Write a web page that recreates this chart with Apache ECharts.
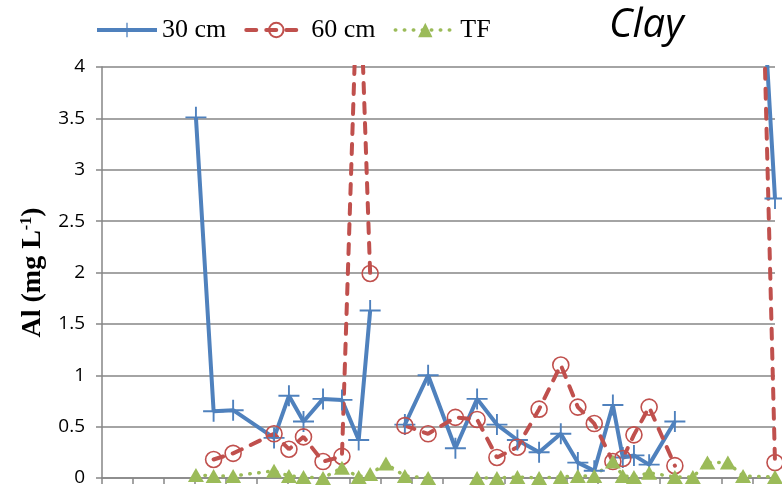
<!DOCTYPE html>
<html>
<head>
<meta charset="utf-8">
<script src="https://cdn.jsdelivr.net/npm/echarts@6/dist/echarts.min.js"></script>
<style>html,body{margin:0;padding:0;background:#fff;}#c{width:782px;height:490px;}</style>
</head>
<body>
<div id="c"></div>
<script>
// Sampling positions (in x-axis tick units) and Al concentrations (mg L-1); null = gap in the line
var days30 = [3.03,3.6,4.23,5.55,6.03,6.5,7.13,7.74,8.28,8.65,9.16,9.77,10.52,11.4,12.1,12.74,13.4,14.1,14.8,15.35,15.88,16.48,16.8,17.16,17.65,18.48,19.06,21.29,21.71];
var al30   = [3.51,0.65,0.66,0.39,0.80,0.55,0.77,0.76,0.37,1.63,null,0.52,1.00,0.29,0.77,0.52,0.37,0.25,0.43,0.15,0.07,0.71,0.20,0.22,0.13,0.55,null,4.9,2.72];

var days60 = [3.6,4.23,5.55,6.03,6.5,7.13,7.74,8.28,8.65,9.16,9.77,10.52,11.4,12.1,12.74,13.4,14.1,14.8,15.35,15.88,16.48,16.8,17.16,17.65,18.48,19.06,21.29,21.71];
var al60   = [0.18,0.24,0.43,0.28,0.40,0.16,0.21,5.25,1.99,null,0.51,0.43,0.59,0.57,0.20,0.30,0.67,1.10,0.69,0.53,0.16,0.19,0.42,0.69,0.12,null,5.15,0.15];

var daysTF = [3.03,3.6,4.23,5.55,6.03,6.5,7.13,7.74,8.28,8.65,9.16,9.77,10.52,11.4,12.1,12.74,13.4,14.1,14.8,15.35,15.88,16.48,16.8,17.16,17.65,18.48,19.06,19.53,20.19,20.68,21.71];
var alTF   = [0.03,0.02,0.02,0.07,0.02,0.01,0.00,0.10,0.01,0.04,0.14,0.02,0.00,null,0.00,0.00,0.01,0.00,0.01,0.02,0.02,0.16,0.02,0.01,0.05,0.01,0.01,0.15,0.15,0.02,0.01];

var seriesNames = ['30 cm', '60 cm', 'TF'];
var yTicks = {min: 0, max: 4, step: 0.5};
var xRange = {min: 0, max: 21.71, step: 1};

function pairs(xs, ys) { return xs.map(function (x, i) { return [x, ys[i]]; }); }

var chart = echarts.init(document.getElementById('c'), null, {renderer: 'canvas'});
var cross = 'path://M0,9.1h20v1.8h-20z M9.1,0h1.8v20h-1.8z';
var blueLine = {color: '#4F81BD', width: 4};
var redLine = {color: '#C0504D', width: 4, type: [10, 10], cap: 'round'};
var greenLine = {color: '#9BBB59', width: 3.5, type: [0.5, 8.5], cap: 'round'};
chart.setOption({
  animation: false,
  backgroundColor: '#fff',
  title: {
    text: 'Clay', left: 604, top: 1,
    textStyle: {fontFamily: 'Open Sans', fontStyle: 'italic', fontWeight: 'normal', fontSize: 40, color: '#000'}
  },
  legend: {
    data: [
      {name: seriesNames[0], lineStyle: blueLine},
      {name: seriesNames[1], lineStyle: redLine},
      {name: seriesNames[2], lineStyle: greenLine}
    ],
    left: 90, top: 12, itemWidth: 60, itemHeight: 18, itemGap: 18,
    textStyle: {fontFamily: 'Liberation Serif', fontSize: 26, color: '#000'}
  },
  grid: {left: 102, right: 7, top: 67, bottom: 12, containLabel: false},
  xAxis: {
    type: 'value', min: xRange.min, max: xRange.max, interval: xRange.step,
    axisLine: {lineStyle: {color: '#868686', width: 1.5}},
    axisTick: {show: true, length: 6, lineStyle: {color: '#868686', width: 1.5}},
    axisLabel: {show: false},
    splitLine: {show: false}
  },
  yAxis: {
    type: 'value', min: yTicks.min, max: yTicks.max, interval: yTicks.step,
    name: 'Al (mg L{sup|-1})', nameLocation: 'middle', nameGap: 55, nameRotate: 90,
    nameTextStyle: {fontFamily: 'Liberation Serif', fontWeight: 'bold', fontSize: 28, color: '#000',
      rich: {sup: {fontFamily: 'Liberation Serif', fontWeight: 'bold', fontSize: 16, verticalAlign: 'top', color: '#000', padding: [0,0,12,0]}}},
    axisLine: {show: true, lineStyle: {color: '#868686', width: 1.5}},
    axisTick: {show: true, length: 6, lineStyle: {color: '#868686', width: 1.5}},
    axisLabel: {fontFamily: 'Open Sans', fontSize: 19, color: '#000', margin: 17},
    splitLine: {lineStyle: {color: '#868686', width: 1.5}}
  },
  series: [
    {
      name: seriesNames[0], type: 'line', data: pairs(days30, al30), clip: true,
      symbol: cross, symbolSize: 21,
      lineStyle: blueLine,
      itemStyle: {color: '#4F81BD'}
    },
    {
      name: seriesNames[1], type: 'line', data: pairs(days60, al60), clip: true,
      symbol: 'circle', symbolSize: 16,
      lineStyle: redLine,
      itemStyle: {color: 'rgba(255,255,255,0)', borderColor: '#C0504D', borderWidth: 1.6}
    },
    {
      name: seriesNames[2], type: 'line', data: pairs(daysTF, alTF), clip: true,
      symbol: 'triangle', symbolSize: [16, 14],
      lineStyle: greenLine,
      itemStyle: {color: '#9BBB59'}
    }
  ]
});
</script>
</body>
</html>
